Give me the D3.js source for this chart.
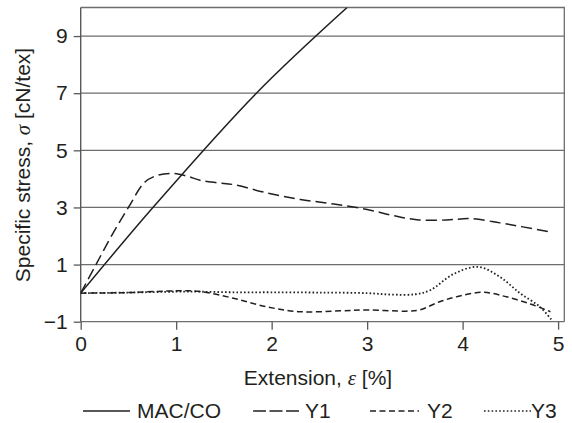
<!DOCTYPE html>
<html>
<head>
<meta charset="utf-8">
<script src="https://d3js.org/d3.v7.min.js"></script>
<style>
  body { margin: 0; background: #fff; }
  text { font-family: "Liberation Sans", Arial, Helvetica, sans-serif; fill: #231f20; }
</style>
</head>
<body>
<div class="chart"></div>
<script>
// tick values
const xTicks = [0, 1, 2, 3, 4, 5];
const yTicks = [-1, 1, 3, 5, 7, 9];

// curves: [extension %, stress cN/tex]
const macco = [[0, 0], [0.77, 3.05], [1.84, 7], [2.79, 10]];
const y1 = [[0, 0], [0.16, 1], [0.33, 2.05], [0.5, 3], [0.67, 3.88], [0.8, 4.12], [0.97, 4.19], [1.12, 4.09],
            [1.25, 3.95], [1.44, 3.86], [1.6, 3.8], [1.95, 3.51], [2.3, 3.28], [2.65, 3.12], [3.0, 2.93],
            [3.27, 2.72], [3.52, 2.57], [3.83, 2.56], [4.08, 2.61], [4.39, 2.46], [4.63, 2.32], [4.91, 2.15]];
const y2 = [[0, 0], [0.5, 0.02], [1.0, 0.08], [1.25, 0.06], [1.6, -0.18], [1.95, -0.48], [2.3, -0.65],
            [2.72, -0.62], [3.0, -0.59], [3.41, -0.63], [3.55, -0.59], [3.76, -0.3], [3.97, -0.1],
            [4.22, 0.03], [4.46, -0.13], [4.71, -0.38], [4.92, -0.65]];
const y3 = [[0, 0], [0.5, 0.02], [1.0, 0.05], [1.25, 0.05], [1.6, 0.03], [2.0, 0.03], [2.5, 0.02],
            [3.0, 0.0], [3.25, -0.05], [3.5, -0.04], [3.66, 0.1], [3.9, 0.66], [4.16, 0.92], [4.39, 0.57],
            [4.6, 0.0], [4.81, -0.48], [4.94, -0.97]];

const series = [
  {name: "MAC/CO", data: macco, dash: null},
  {name: "Y1", data: y1, dash: "11,5"},
  {name: "Y2", data: y2, dash: "6,3.5"},
  {name: "Y3", data: y3, dash: "1.6,2.2"}
];

const width = 572, height = 423;
const plot = {left: 80.7, right: 564.3, top: 7.5, bottom: 321.7};
const fontSize = 21;

const xScale = d3.scaleLinear().domain([0, 5.065]).range([plot.left, plot.right]);
const yScale = d3.scaleLinear().domain([-1, 10]).range([plot.bottom, plot.top]);

var svg = d3.select('.chart')
  .append('svg')
  .attr('width', width)
  .attr('height', height);

// grid lines
svg.append('g')
  .selectAll('line')
  .data(yTicks)
  .enter()
  .append('line')
  .attr('x1', plot.left).attr('x2', plot.right)
  .attr('y1', d => yScale(d)).attr('y2', d => yScale(d))
  .attr('stroke', '#6d6e71')
  .attr('stroke-width', 1.3);

// frame top + right
svg.append('path')
  .attr('d', `M${plot.left},${plot.top}H${plot.right}V${plot.bottom}`)
  .attr('fill', 'none')
  .attr('stroke', '#6d6e71')
  .attr('stroke-width', 1.3);

// axes
const xAxis = d3.axisBottom(xScale).tickValues(xTicks).tickSize(8).tickPadding(6).tickFormat(d3.format('d'));
const yAxis = d3.axisLeft(yScale).tickValues(yTicks).tickSize(7).tickPadding(6)
  .tickFormat(d => d < 0 ? '\u2212' + Math.abs(d) : d);

var xAxisDisplay = svg.append('g')
  .attr('transform', `translate(0, ${plot.bottom})`)
  .call(xAxis);
var yAxisDisplay = svg.append('g')
  .attr('transform', `translate(${plot.left}, 0)`)
  .call(yAxis);

[xAxisDisplay, yAxisDisplay].forEach(g => {
  g.select('.domain').remove();
  g.selectAll('line').attr('stroke', '#58595b').attr('stroke-width', 1.3);
  g.selectAll('text')
    .attr('font-size', fontSize)
    .attr('font-family', '"Liberation Sans", Arial, sans-serif')
    .attr('fill', '#231f20');
});
xAxisDisplay.selectAll('text').attr('dy', '0.72em');

// left axis line
svg.append('line')
  .attr('x1', plot.left).attr('x2', plot.left)
  .attr('y1', plot.top).attr('y2', plot.bottom)
  .attr('stroke', '#58595b')
  .attr('stroke-width', 1.4);

// curves
svg.append('clipPath').attr('id', 'clip')
  .append('rect')
  .attr('x', plot.left).attr('y', plot.top)
  .attr('width', plot.right - plot.left).attr('height', plot.bottom - plot.top + 1);

const line = d3.line()
  .x(d => xScale(d[0]))
  .y(d => yScale(d[1]))
  .curve(d3.curveCatmullRom.alpha(0.5));

svg.append('g')
  .attr('clip-path', 'url(#clip)')
  .selectAll('path')
  .data(series)
  .enter()
  .append('path')
  .attr('d', d => line(d.data))
  .attr('fill', 'none')
  .attr('stroke', '#231f20')
  .attr('stroke-width', d => d.dash === "1.6,2.2" ? 1.8 : 1.5)
  .attr('stroke-dasharray', d => d.dash);

// axis titles
var xLabel = svg.append('text')
  .attr('x', 318)
  .attr('y', 385)
  .attr('text-anchor', 'middle')
  .attr('font-size', fontSize);
xLabel.append('tspan').text('Extension, ');
xLabel.append('tspan').attr('font-family', '"Liberation Serif", "Times New Roman", serif').attr('font-style', 'italic').text('\u03b5');
xLabel.append('tspan').text(' [%]');

var yLabel = svg.append('text')
  .attr('transform', 'translate(30, 165) rotate(-90)')
  .attr('text-anchor', 'middle')
  .attr('font-size', fontSize);
yLabel.append('tspan').text('Specific stress, ');
yLabel.append('tspan').attr('font-family', '"Liberation Serif", "Times New Roman", serif').attr('font-style', 'italic').text('\u03c3');
yLabel.append('tspan').text(' [cN/tex]');

// legend
const legendPos = [
  {x1: 83, x2: 130, tx: 137},
  {x1: 253, x2: 300, tx: 305},
  {x1: 370, x2: 419, tx: 427},
  {x1: 484, x2: 531, tx: 531}
];
var legend = svg.append('g');
legend.selectAll('line')
  .data(series)
  .enter()
  .append('line')
  .attr('x1', (d, i) => legendPos[i].x1)
  .attr('x2', (d, i) => legendPos[i].x2)
  .attr('y1', 411).attr('y2', 411)
  .attr('stroke', '#231f20')
  .attr('stroke-width', d => d.dash === "1.6,2.2" ? 1.6 : 1.4)
  .attr('stroke-dasharray', (d, i) => i === 1 ? "13,3.5" : d.dash);
legend.selectAll('text')
  .data(series)
  .enter()
  .append('text')
  .attr('x', (d, i) => legendPos[i].tx)
  .attr('y', 418)
  .attr('font-size', fontSize)
  .text(d => d.name);
</script>
</body>
</html>
